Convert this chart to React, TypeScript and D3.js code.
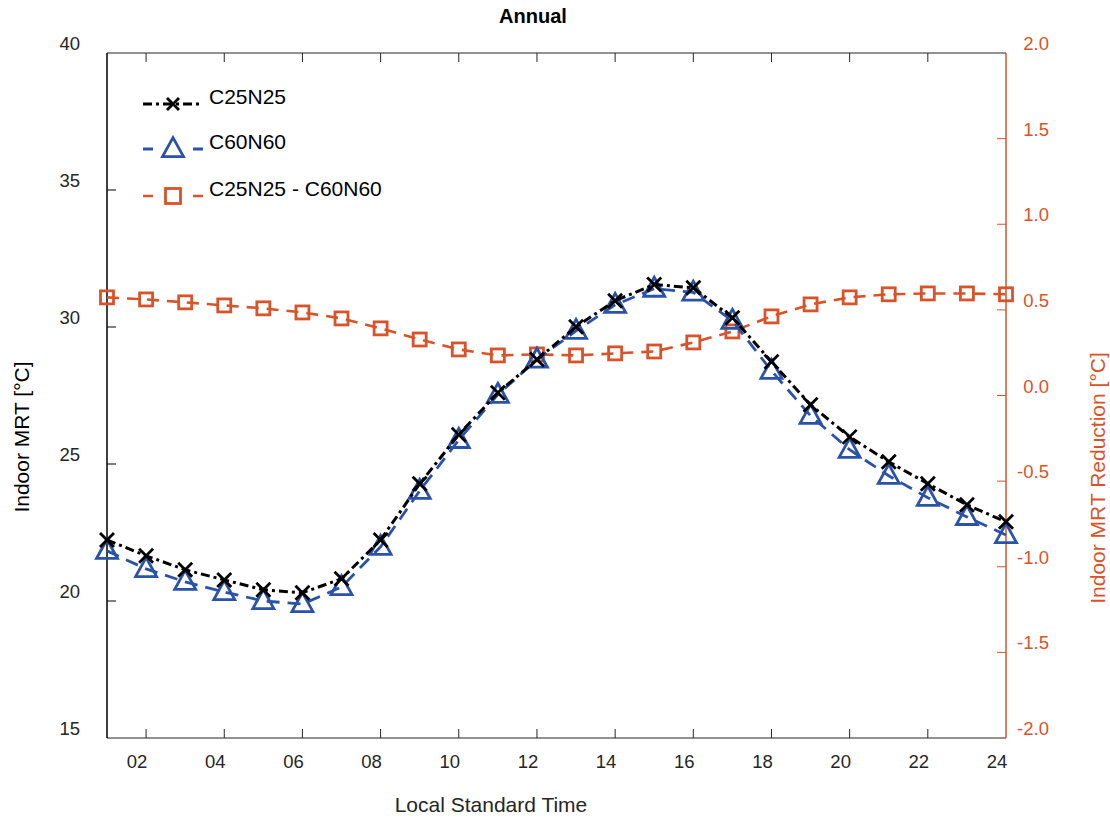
import React from "react";
import * as d3 from "d3";

const hours = [1,2,3,4,5,6,7,8,9,10,11,12,13,14,15,16,17,18,19,20,21,22,23,24];
const c25n25 = [22.23,21.65,21.14,20.77,20.41,20.30,20.81,22.23,24.28,26.07,27.60,28.81,30.01,30.96,31.55,31.43,30.34,28.73,27.16,25.99,25.08,24.28,23.51,22.89];
const c60n60 = [21.83,21.17,20.70,20.33,20.00,19.89,20.51,21.98,24.02,25.88,27.53,28.81,29.86,30.81,31.40,31.26,30.23,28.40,26.76,25.52,24.57,23.77,23.07,22.41];
const diff = [0.573,0.561,0.544,0.526,0.509,0.485,0.450,0.392,0.327,0.269,0.234,0.240,0.234,0.246,0.257,0.310,0.374,0.462,0.532,0.573,0.591,0.596,0.596,0.591];
const xTicks = [2,4,6,8,10,12,14,16,18,20,22,24];
const xTickLabels = ["02","04","06","08","10","12","14","16","18","20","22","24"];
const yLeftTicks = [15,20,25,30,35,40];
const yRightTicks = [-2,-1.5,-1,-0.5,0,0.5,1,1.5,2];
const legendLabels = ["C25N25","C60N60","C25N25 - C60N60"];

const BLACK = "#000000";
const BLUE = "#2a52a8";
const ORANGE = "#d9532a";
const GRAY = "#262626";
const FONT = "Liberation Sans, Arial, Helvetica, sans-serif";

const L = 107, R = 1006, T = 53, B = 738;

export default function App() {
  const x = d3.scaleLinear().domain([1, 24]).range([L, R]);
  const yL = d3.scaleLinear().domain([15, 40]).range([B, T]);
  const yR = d3.scaleLinear().domain([-2, 2]).range([B, T]);

  const lineBlack = d3.line<number>().x((_, i) => x(hours[i])).y((d) => yL(d));
  const lineR = d3.line<number>().x((_, i) => x(hours[i])).y((d) => yR(d));

  const xMark = (cx: number, cy: number, k: string | number, s = 7) => (
    <g key={k} stroke={BLACK} strokeWidth={2.8}>
      <line x1={cx - s} y1={cy - s} x2={cx + s} y2={cy + s} />
      <line x1={cx - s} y1={cy + s} x2={cx + s} y2={cy - s} />
    </g>
  );
  const triMark = (cx: number, cy: number, k: string | number) => {
    const h = 19, w = 21;
    const p = `M${cx},${cy - h * 0.6} L${cx + w / 2},${cy + h * 0.4} L${cx - w / 2},${cy + h * 0.4} Z`;
    return <path key={k} d={p} fill="none" stroke={BLUE} strokeWidth={2.8} />;
  };
  const sqMark = (cx: number, cy: number, k: string | number, s = 13) => (
    <rect key={k} x={cx - s / 2} y={cy - s / 2} width={s} height={s} fill="none" stroke={ORANGE} strokeWidth={2.8} />
  );

  const legendY = [104, 149, 196];

  return (
    <svg width={1110} height={819} style={{ position: "absolute", left: 0, top: 0, background: "#fff" }} fontFamily={FONT}>
      <rect x={0} y={0} width={1110} height={819} fill="#fff" />
      <text x={533} y={23} textAnchor="middle" fontWeight="bold" fontSize={20} fill={BLACK}>Annual</text>

      {/* frame */}
      <line x1={L} y1={T} x2={R} y2={T} stroke={GRAY} strokeWidth={1.2} />
      <line x1={L} y1={B} x2={R} y2={B} stroke={GRAY} strokeWidth={1.2} />
      <line x1={L} y1={T} x2={L} y2={B} stroke={BLACK} strokeWidth={1.5} />
      <line x1={R} y1={T} x2={R} y2={B} stroke={ORANGE} strokeWidth={1.5} />

      {/* x ticks */}
      {xTicks.map((t, i) => (
        <g key={"xt" + t}>
          {t < 24 && <line x1={x(t)} y1={B} x2={x(t)} y2={B - 9} stroke={GRAY} strokeWidth={1} />}
          {t < 24 && <line x1={x(t)} y1={T} x2={x(t)} y2={T + 9} stroke={GRAY} strokeWidth={1} />}
          <text x={x(t) - 9} y={768} textAnchor="middle" fontSize={18.5} fill={GRAY}>{xTickLabels[i]}</text>
        </g>
      ))}

      {/* left ticks */}
      {yLeftTicks.map((t) => (
        <g key={"yl" + t}>
          {t > 15 && t < 40 && <line x1={L} y1={yL(t)} x2={L + 9} y2={yL(t)} stroke={BLACK} strokeWidth={1} />}
          <text x={80} y={yL(t) - 3} textAnchor="end" fontSize={18.5} fill={GRAY}>{t}</text>
        </g>
      ))}

      {/* right ticks */}
      {yRightTicks.map((t) => (
        <g key={"yr" + t}>
          {t > -2 && t < 2 && <line x1={R} y1={yR(t)} x2={R - 9} y2={yR(t)} stroke={ORANGE} strokeWidth={1} />}
          <text x={1049} y={yR(t) - 3} textAnchor="end" fontSize={18.5} fill={ORANGE}>{t.toFixed(1)}</text>
        </g>
      ))}

      {/* axis labels */}
      <text x={491} y={812} textAnchor="middle" fontSize={21} fill={GRAY}>Local Standard Time</text>
      <text transform="translate(29,437) rotate(-90)" textAnchor="middle" fontSize={21} fill={BLACK}>Indoor MRT [°C]</text>
      <text transform="translate(1105,478) rotate(-90)" textAnchor="middle" fontSize={21} fill={ORANGE}>Indoor MRT Reduction [°C]</text>

      {/* series */}
      <path d={lineR(diff) || ""} fill="none" stroke={ORANGE} strokeWidth={2.6} strokeDasharray="12,8" />
      {diff.map((d, i) => sqMark(x(hours[i]), yR(d), "s" + i))}
      <path d={lineBlack(c60n60) || ""} fill="none" stroke={BLUE} strokeWidth={2.8} strokeDasharray="13,8" />
      {c60n60.map((d, i) => triMark(x(hours[i]), yL(d), "t" + i))}
      <path d={lineBlack(c25n25) || ""} fill="none" stroke={BLACK} strokeWidth={3} strokeDasharray="9,4,3,4" />
      {c25n25.map((d, i) => xMark(x(hours[i]), yL(d), "x" + i))}

      {/* legend */}
      <g>
        <line x1={143} y1={legendY[0]} x2={203} y2={legendY[0]} stroke={BLACK} strokeWidth={3} strokeDasharray="9,4,3,4" />
        {xMark(173, legendY[0], "lx", 6)}
        <line x1={143} y1={legendY[1]} x2={203} y2={legendY[1]} stroke={BLUE} strokeWidth={2.8} strokeDasharray="10,40" />
        {triMark(173, legendY[1], "lt")}
        <line x1={143} y1={legendY[2]} x2={203} y2={legendY[2]} stroke={ORANGE} strokeWidth={2.6} strokeDasharray="10,40" />
        {sqMark(173, legendY[2], "ls", 15)}
        {legendLabels.map((s, i) => (
          <text key={s} x={209} y={legendY[i] - 0} fontSize={21} fill={BLACK}>{s}</text>
        ))}
      </g>
    </svg>
  );
}
